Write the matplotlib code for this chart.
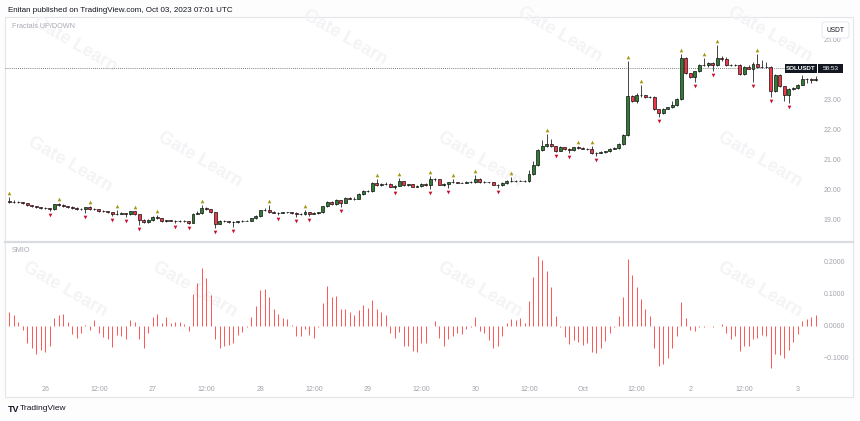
import matplotlib
matplotlib.use('Agg')
import matplotlib.pyplot as plt
from matplotlib import transforms
from matplotlib.patches import Rectangle, FancyBboxPatch
import pandas as pd

plt.rcParams['font.family'] = ['Liberation Sans', 'DejaVu Sans']

# ---------------- data (hourly SOLUSDT candles) ----------------
first_time = '2023-09-25 16:00'
first_open = 19.60
closes = [
    19.58, 19.57, 19.56, 19.53, 19.46, 19.43, 19.39, 19.37, 19.36, 19.33,
    19.49, 19.47, 19.43, 19.41, 19.37, 19.33, 19.32, 19.39, 19.32, 19.33,
    19.27, 19.26, 19.23, 19.17, 19.18, 19.19, 19.17, 19.26, 19.16, 18.97,
    18.90, 18.97, 19.07, 19.03, 18.92, 18.96, 18.94, 18.94, 18.94, 18.93,
    18.87, 19.18, 19.19, 19.37, 19.33, 19.23, 18.84, 18.94, 18.92, 18.91,
    18.89, 18.93, 18.94, 18.95, 19.02, 19.10, 19.29, 19.30, 19.23, 19.21,
    19.21, 19.23, 19.22, 19.20, 19.16, 19.17, 19.23, 19.18, 19.20, 19.23,
    19.42, 19.57, 19.50, 19.63, 19.54, 19.70, 19.68, 19.68, 19.83, 19.94,
    19.92, 20.20, 20.12, 20.18, 20.18, 20.08, 20.11, 20.26, 20.12, 20.16,
    20.08, 20.09, 20.17, 20.12, 20.32, 20.32, 20.14, 20.16, 20.22, 20.22,
    20.21, 20.21, 20.23, 20.23, 20.34, 20.22, 20.23, 20.22, 20.14, 20.13,
    20.20, 20.27, 20.28, 20.28, 20.28, 20.27, 20.50, 20.79, 21.30, 21.43,
    21.50, 21.43, 21.28, 21.39, 21.34, 21.30, 21.39, 21.37, 21.35, 21.32,
    21.19, 21.21, 21.23, 21.26, 21.34, 21.37, 21.50, 21.79, 23.10, 22.94,
    23.14, 23.12, 23.06, 23.08, 22.66, 22.52, 22.68, 22.72, 22.79, 22.99,
    24.37, 23.86, 23.74, 23.92, 24.15, 24.13, 24.20, 24.13, 24.36, 24.32,
    24.12, 24.14, 24.14, 23.83, 24.08, 24.01, 24.17, 24.06, 24.08, 24.08,
    23.26, 23.81, 23.43, 23.14, 23.34, 23.37, 23.48, 23.66, 23.66, 23.64,
    23.66,
]
highs = [
    19.73, 19.62, 19.60, 19.58, 19.55, 19.48, 19.45, 19.41, 19.40, 19.38,
    19.51, 19.53, 19.49, 19.45, 19.43, 19.39, 19.36, 19.41, 19.42, 19.36,
    19.35, 19.29, 19.28, 19.25, 19.29, 19.22, 19.21, 19.265, 19.28, 19.18,
    18.99, 18.99, 19.09, 19.13, 19.05, 18.98, 18.98, 18.97, 18.97, 18.96,
    18.95, 19.20, 19.26, 19.47, 19.41, 19.35, 19.25, 18.96, 18.96, 18.95,
    18.93, 18.95, 18.96, 18.97, 19.04, 19.12, 19.31, 19.36, 19.46, 19.26,
    19.24, 19.25, 19.25, 19.24, 19.22, 19.20, 19.31, 19.25, 19.22, 19.25,
    19.44, 19.60, 19.60, 19.66, 19.65, 19.73, 19.75, 19.72, 19.86, 19.98,
    19.97, 20.22, 20.34, 20.21, 20.22, 20.20, 20.14, 20.36, 20.28, 20.18,
    20.18, 20.12, 20.19, 20.19, 20.44, 20.36, 20.34, 20.19, 20.25, 20.33,
    20.24, 20.24, 20.26, 20.26, 20.46, 20.36, 20.26, 20.25, 20.24, 20.17,
    20.22, 20.29, 20.39, 20.31, 20.31, 20.30, 20.62, 20.92, 21.33, 21.62,
    21.82, 21.68, 21.45, 21.42, 21.41, 21.37, 21.41, 21.44, 21.40, 21.38,
    21.44, 21.24, 21.26, 21.28, 21.36, 21.40, 21.53, 21.85, 24.27, 23.13,
    23.19, 23.46, 23.15, 23.11, 23.10, 22.68, 22.70, 22.75, 22.95, 23.02,
    24.51, 24.39, 23.88, 23.95, 24.18, 24.36, 24.22, 24.24, 24.80, 24.45,
    24.40, 24.18, 24.17, 24.16, 24.10, 24.12, 24.22, 24.51, 24.30, 24.25,
    24.10, 23.84, 23.83, 23.45, 23.37, 23.40, 23.51, 23.80, 23.70, 23.69,
    23.76,
]
lows = [
    19.55, 19.54, 19.53, 19.51, 19.44, 19.41, 19.37, 19.35, 19.33, 19.26,
    19.31, 19.44, 19.41, 19.38, 19.35, 19.31, 19.29, 19.21, 19.30, 19.30,
    19.25, 19.24, 19.21, 19.10, 19.15, 19.16, 19.07, 19.15, 19.14, 18.81,
    18.87, 18.88, 18.95, 19.01, 18.90, 18.90, 18.92, 18.86, 18.91, 18.90,
    18.84, 18.86, 19.16, 19.17, 19.30, 19.21, 18.70, 18.82, 18.89, 18.88,
    18.72, 18.87, 18.91, 18.92, 18.93, 19.00, 19.08, 19.27, 19.21, 19.19,
    19.14, 19.19, 19.20, 19.18, 19.06, 19.14, 19.15, 19.10, 19.16, 19.18,
    19.21, 19.40, 19.48, 19.48, 19.39, 19.52, 19.66, 19.65, 19.66, 19.81,
    19.89, 19.90, 20.10, 20.10, 20.15, 20.06, 20.01, 20.09, 20.10, 20.10,
    20.06, 20.06, 20.07, 20.10, 19.99, 20.28, 20.12, 20.11, 20.04, 20.19,
    20.19, 20.19, 20.19, 20.20, 20.21, 20.20, 20.20, 20.19, 20.12, 20.04,
    20.11, 20.18, 20.25, 20.25, 20.26, 20.25, 20.25, 20.48, 20.77, 21.28,
    21.41, 21.40, 21.23, 21.26, 21.31, 21.20, 21.28, 21.34, 21.32, 21.30,
    21.17, 21.10, 21.19, 21.21, 21.24, 21.32, 21.35, 21.48, 21.77, 22.90,
    22.86, 23.08, 23.03, 23.04, 22.64, 22.40, 22.50, 22.66, 22.70, 22.77,
    22.97, 23.84, 23.70, 23.56, 23.90, 24.10, 24.08, 23.94, 24.11, 24.28,
    24.10, 24.10, 24.11, 23.81, 23.80, 23.99, 23.58, 24.03, 24.04, 24.05,
    23.07, 23.22, 23.40, 22.95, 22.87, 23.31, 23.35, 23.46, 23.55, 23.55,
    23.60,
]
up_fractals = [0, 11, 18, 24, 28, 33, 43, 58, 66, 82, 87, 94, 99, 104, 112,
               120, 127, 130, 138, 141, 150, 155, 158, 167]
down_fractals = [9, 17, 23, 26, 29, 37, 40, 46, 50, 60, 64, 67, 74, 86, 94, 98,
                 109, 122, 125, 131, 145, 153, 157, 166, 170, 174]
smio = [
    0.041, 0.032, 0.011, -0.014, -0.056, -0.071, -0.090, -0.078, -0.084, -0.064,
    0.025, 0.032, 0.037, 0.011, -0.026, -0.040, -0.024, 0.002, -0.014, 0.018,
    -0.022, -0.036, -0.043, -0.066, -0.031, -0.034, -0.043, 0.018, 0.012, -0.041,
    -0.069, -0.024, 0.026, 0.037, 0.009, 0.026, 0.007, 0.011, 0.011, 0.005,
    -0.016, 0.099, 0.134, 0.179, 0.150, 0.097, -0.043, -0.071, -0.064, -0.061,
    -0.055, -0.029, -0.019, -0.005, 0.028, 0.061, 0.111, 0.116, 0.091, 0.052,
    0.036, 0.023, 0.021, 0.002, -0.032, -0.034, -0.011, -0.031, -0.038, -0.005,
    0.072, 0.124, 0.090, 0.093, 0.052, 0.052, 0.041, 0.033, 0.049, 0.065,
    0.055, 0.080, 0.052, 0.041, 0.033, -0.022, -0.038, -0.019, -0.063, -0.063,
    -0.081, -0.084, -0.056, -0.056, -0.003, 0.013, -0.038, -0.064, -0.042, -0.032,
    -0.022, -0.027, -0.011, -0.005, 0.026, -0.016, -0.024, -0.045, -0.069, -0.064,
    -0.032, 0.007, 0.020, 0.018, 0.022, 0.007, 0.077, 0.153, 0.218, 0.205,
    0.172, 0.122, 0.030, -0.004, -0.037, -0.057, -0.047, -0.053, -0.061, -0.055,
    -0.082, -0.086, -0.071, -0.050, -0.022, -0.005, 0.030, 0.089, 0.210, 0.158,
    0.122, 0.084, 0.051, 0.031, -0.071, -0.128, -0.120, -0.101, -0.071, -0.034,
    0.075, 0.023, -0.014, -0.016, -0.005, -0.006, -0.003, -0.006, -0.002, 0.004,
    -0.024, -0.041, -0.034, -0.079, -0.064, -0.064, -0.041, -0.039, -0.030, -0.032,
    -0.133, -0.089, -0.092, -0.102, -0.076, -0.053, -0.027, 0.013, 0.020, 0.028,
    0.032,
]
price_ticks = [19.0, 20.0, 21.0, 22.0, 23.0, 25.0]
smio_ticks = [-0.1, 0.0, 0.1, 0.2]
price_line = 24.03
symbol = 'SOLUSDT'
countdown = '58:53'
header = 'Enitan published on TradingView.com, Oct 03, 2023 07:01 UTC'

# ---------------- figure ----------------
W, H = 860, 421
fig = plt.figure(figsize=(W / 100, H / 100), dpi=100)
fig.patch.set_facecolor('#fdfdfd')

def px_axes(x0, y0, x1, y1):
    return fig.add_axes([x0 / W, 1 - y1 / H, (x1 - x0) / W, (y1 - y0) / H])

def px_rect(x0, y0, x1, y1, **kw):
    r = Rectangle((x0 / W, 1 - y1 / H), (x1 - x0) / W, (y1 - y0) / H,
                  transform=fig.transFigure, **kw)
    fig.patches.append(r)
    return r

# chart frame
px_rect(5, 17, 853, 397, facecolor='white', edgecolor='#e3e5ea', linewidth=0.8, zorder=-2)

# watermark
wm_pos = [(75, 45), (345, 38), (560, 35), (770, 35), (70, 165), (200, 160),
          (480, 160), (760, 160), (65, 290), (195, 290), (480, 290), (760, 290)]
for (x, y) in wm_pos:
    fig.text(x / W, 1 - y / H, 'Gate Learn', fontsize=13, fontweight='bold',
             color='#f4f4f6', rotation=-30, ha='center', va='center', zorder=-1)

times = pd.date_range(first_time, periods=len(closes), freq='h')
idx = list(range(len(closes)))
opens = [first_open] + closes[:-1]
xlim = (-0.96, 180.51)

ax1 = px_axes(5, 18, 818, 241)
ax2 = px_axes(5, 243, 818, 378)
for ax in (ax1, ax2):
    ax.set_facecolor('none')
    ax.set_zorder(1)
    for s in ax.spines.values():
        s.set_visible(False)
    ax.set_xlim(*xlim)

# candles
up_col, dn_col = '#2e7d32', '#f23645'
ax1.vlines(idx, lows, highs, color='#444444', linewidth=0.7, zorder=2)
for i, (o, c) in enumerate(zip(opens, closes)):
    col = up_col if c >= o else dn_col
    ax1.bar(i, c - o, bottom=o, width=0.66, color=col, edgecolor='#111111',
            linewidth=0.5, zorder=3)

# fractals
up_tr = transforms.offset_copy(ax1.transData, fig=fig, y=4, units='dots')
dn_tr = transforms.offset_copy(ax1.transData, fig=fig, y=-4, units='dots')
ax1.scatter(up_fractals, [highs[i] for i in up_fractals], marker='^', s=7,
            color='#a39a14', linewidths=0, transform=up_tr, zorder=4)
ax1.scatter(down_fractals, [lows[i] for i in down_fractals], marker='v', s=7,
            color='#c8102e', linewidths=0, transform=dn_tr, zorder=4)

ax1.axhline(price_line, color='#555555', linewidth=0.6, linestyle=(0, (1, 1.5)), zorder=1)
ax1.set_ylim(18.267, 25.7)
ax1.yaxis.tick_right()
ax1.set_yticks(price_ticks)
ax1.set_yticklabels(['%.2f' % t for t in price_ticks])
ax1.tick_params(axis='y', length=0, pad=4, labelsize=5, labelcolor='#a0a3ab')
ax1.set_xticks([])
ax1.text(7 / 813, 1 - 9 / 223, 'Fractals UP/DOWN', transform=ax1.transAxes,
         fontsize=5.2, color='#a8abb3', va='center', ha='left')

# SMIO histogram
ax2.vlines(idx, 0, smio, color='#ff5a5a', linewidth=0.72, zorder=2)
ax2.set_ylim(-0.1647, 0.2589)
ax2.yaxis.tick_right()
ax2.set_yticks(smio_ticks)
ax2.set_yticklabels([('\u2212%.4f' % abs(t)) if t < 0 else '%.4f' % t for t in smio_ticks])
ax2.tick_params(axis='y', length=0, pad=4, labelsize=5, labelcolor='#a0a3ab')
tick_pos = [i for i, t in enumerate(times) if t.hour in (0, 12)]
tick_lab = []
for i in tick_pos:
    t = times[i]
    if t.hour == 12:
        tick_lab.append('12:00')
    elif t.day == 1:
        tick_lab.append(t.strftime('%b'))
    else:
        tick_lab.append(str(t.day))
ax2.set_xticks(tick_pos)
ax2.set_xticklabels(tick_lab)
ax2.tick_params(axis='x', length=0, pad=6, labelsize=5, labelcolor='#a0a3ab')
ax2.text(7 / 813, 1 - 8 / 135, 'SMIO', transform=ax2.transAxes,
         fontsize=5.2, color='#a8abb3', va='center', ha='left')

# pane separator
fig.add_artist(plt.Line2D([5 / W, 853 / W], [1 - 242 / H] * 2, color='#d9dbe0',
                          linewidth=1.6, transform=fig.transFigure))

# header / footer
fig.text(8 / W, 1 - 10 / H, header, fontsize=5.75, color='#131722', va='center', ha='left')
fig.text(8 / W, 1 - 409 / H, 'TV', fontsize=6.5, fontweight='bold', color='#131722',
         va='center', ha='left')
fig.text(20 / W, 1 - 409 / H, 'TradingView', fontsize=6, color='#131722',
         va='center', ha='left')

# last price / symbol labels
px_rect(785, 63.5, 817, 72.5, facecolor='#131722', edgecolor='none', zorder=5)
px_rect(818, 63.5, 843, 72.5, facecolor='#131722', edgecolor='none', zorder=5)
fig.text(801 / W, 1 - 68 / H, symbol, fontsize=4.5, color='white', fontweight='bold',
         ha='center', va='center', zorder=6)
fig.text(830.5 / W, 1 - 68 / H, countdown, fontsize=4.6, color='white',
         ha='center', va='center', zorder=6)

# currency box
fig.patches.append(FancyBboxPatch((822 / W, 1 - 38 / H), 27 / W, 16 / H,
                                  boxstyle='round,pad=0,rounding_size=0.004',
                                  transform=fig.transFigure, facecolor='white',
                                  edgecolor='#e0e3eb', linewidth=0.6, zorder=5))
fig.text(835.5 / W, 1 - 30 / H, 'USDT', fontsize=4.8, color='#131722',
         ha='center', va='center', zorder=6)

fig.savefig('out.png', dpi=100, facecolor=fig.get_facecolor())
